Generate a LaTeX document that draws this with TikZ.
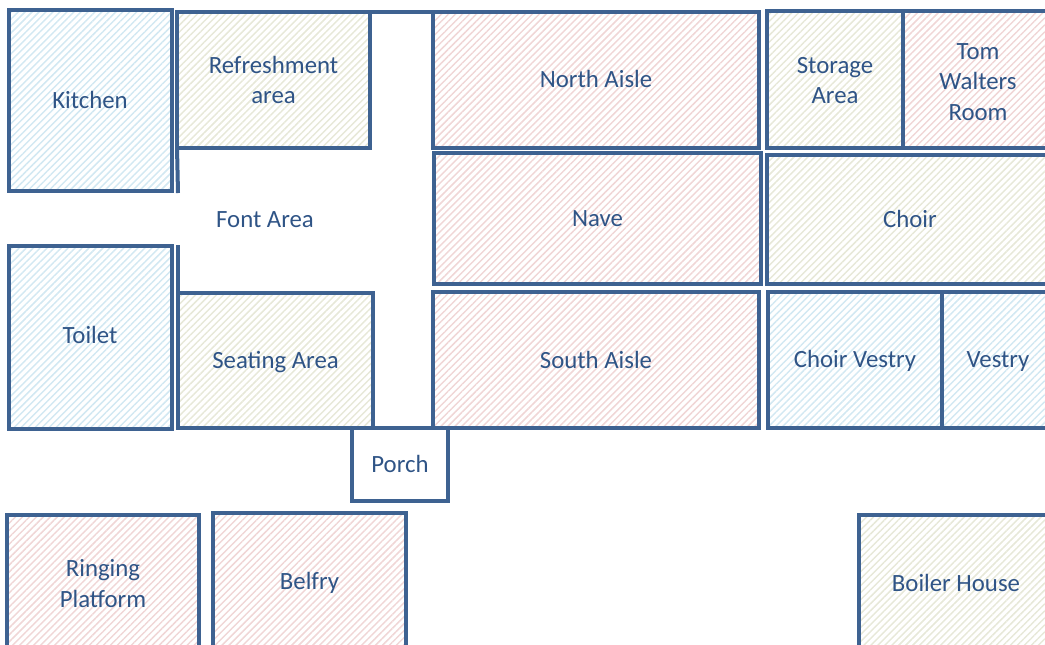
\documentclass[tikz,border=0pt]{standalone}
\usepackage{fontspec}
\setmainfont{Carlito}
\usetikzlibrary{patterns.meta}
\definecolor{wallblue}{RGB}{62,98,145}
\definecolor{labelblue}{RGB}{47,84,134}
\definecolor{hatchred}{RGB}{240,214,214}
\definecolor{hatchgreen}{RGB}{231,232,216}
\definecolor{hatchblue}{RGB}{210,232,242}
\newcommand{\roomstrut}{\rule[-2.2pt]{0pt}{17pt}}
\tikzset{
  wall/.style={draw=wallblue,line width=3pt},
  room/.style={wall,line join=miter,outer sep=0pt,inner sep=0pt,align=center,text=labelblue,
    font=\fontsize{18.6}{23}\selectfont,execute at begin node=\roomstrut,execute at end node=\roomstrut},
  stacked/.style={execute at begin node=\rule{0pt}{#1}},
  roomsize/.style 2 args={minimum width=#1*0.75pt,minimum height=#2*0.75pt},
  redroom/.style={room,pattern={Lines[angle=45,distance=3.7pt,line width=1.1pt]},pattern color=hatchred},
  greenroom/.style={room,pattern={Lines[angle=45,distance=3.7pt,line width=1.1pt]},pattern color=hatchgreen},
  blueroom/.style={room,pattern={Lines[angle=45,distance=3.7pt,line width=1.1pt]},pattern color=hatchblue},
}
\begin{document}
\begin{tikzpicture}[x=0.75pt,y=0.75pt,yscale=-1,xscale=1]
\clip (0,0) rectangle (1045,644);

%Shape: left rooms
\node [blueroom,roomsize={163}{181}] (kitchen) at (90,100.5) {Kitchen};
\node [greenroom,stacked=38.5pt,roomsize={193}{136}] (refreshment) at (273.5,79.5) {Refreshment\\area};
\node [blueroom,roomsize={163}{183}] (toilet) at (90,337.5) {\raisebox{1.5pt}{Toilet}};
\node [greenroom,roomsize={195}{135}] (seating) at (275.5,360.5) {Seating Area};
\node [room,roomsize={96}{73}] (porch) at (400,464.5) {Porch};

%Shape: middle rooms
\node [redroom,roomsize={326}{136}] (northaisle) at (596,79.5) {North Aisle};
\node [redroom,roomsize={327}{131}] (nave) at (597.5,218.5) {Nave};
\node [redroom,roomsize={326}{136}] (southaisle) at (596,360) {South Aisle};

%Shape: right rooms
\node [greenroom,stacked=38.5pt,roomsize={136}{137}] (storage) at (835,79.5) {Storage\\Area};
\node [redroom,stacked=63.5pt,roomsize={150}{137}] (tomwalters) at (978,79.5) {Tom\\Walters\\Room};
\node [greenroom,roomsize={286}{129}] (choir) at (910,219.5) {Choir};
\node [blueroom,roomsize={174}{136}] (choirvestry) at (855,360) {Choir Vestry};
\node [blueroom,roomsize={112}{136}] (vestry) at (998,360) {Vestry};

%Shape: bottom rooms
\node [redroom,stacked=38.5pt,roomsize={192}{136}] (ringing) at (103,583) {Ringing\\Platform};
\node [redroom,roomsize={193}{137}] (belfry) at (309.5,581.5) {Belfry};
\node [greenroom,roomsize={194}{136}] (boiler) at (956,583) {Boiler House};

% Text Node
\node [room,draw=none] (fontarea) at (265,219) {Font Area};

%Straight Lines
\coordinate (fonttop) at (178,193);
\coordinate (fontbottom) at (178,245);
\draw [wall] (refreshment.south west) -- (fonttop);
\draw [wall] (fontbottom) -- (seating.north west);
\draw [wall] (refreshment.north east) -- (northaisle.north west);
\draw [wall] (seating.south east) -- (southaisle.south west);
\end{tikzpicture}
\end{document}
